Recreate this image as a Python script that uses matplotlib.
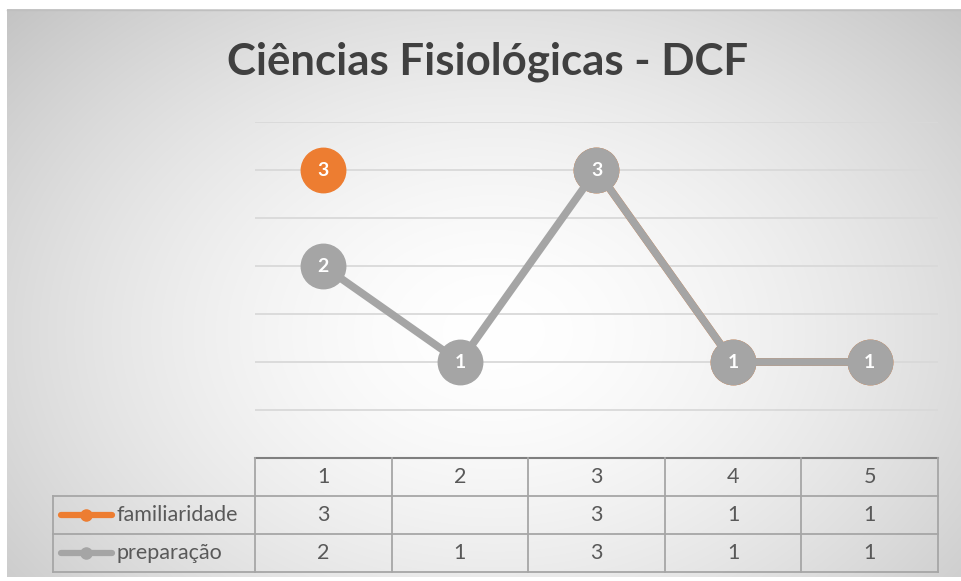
import numpy as np
import matplotlib
matplotlib.use("Agg")
import matplotlib.pyplot as plt

# ---- data ----
title = "Ciências Fisiológicas - DCF"
categories = ["1", "2", "3", "4", "5"]
series_names = ["familiaridade", "preparação"]
familiaridade = [3, None, 3, 1, 1]
preparacao = [2, 1, 3, 1, 1]
series_values = [familiaridade, preparacao]
colors = ["#ED7D31", "#A5A5A5"]

W, H = 962, 581
fig = plt.figure(figsize=(W / 100, H / 100), dpi=100)

# background with radial gradient
bg = fig.add_axes([0, 0, 1, 1])
bg.set_xlim(0, W)
bg.set_ylim(H, 0)
bg.axis("off")
yy, xx = np.mgrid[0:H, 0:W]
cx, cy = 490, 330
r = np.sqrt(((xx - cx) / 620.0) ** 2 + ((yy - cy) / 460.0) ** 2)
v = np.clip(1.0 - 0.21 * r ** 1.6, 0.74, 1.0)
img = np.dstack([v, v, v])
bg.imshow(img, extent=[7, W, 577, 9], aspect="auto", zorder=0)
bg.plot([7, W], [9.5, 9.5], color="#BFBFBF", lw=1, zorder=1)

# title
fig.text(488 / W, 1 - 62 / H, title, ha="center", va="center",
         fontsize=31.5, fontweight="bold", color="#404040", family="Lato")

# plot axes
left_px, right_px, top_px, bot_px = 255, 938, 122, 458
ax = fig.add_axes([left_px / W, 1 - bot_px / H, (right_px - left_px) / W, (bot_px - top_px) / H])
ax.patch.set_alpha(0)
ax.set_xlim(0.5, 5.5)
ax.set_ylim(0, 3.5)
for s in ax.spines.values():
    s.set_visible(False)
ax.set_xticks([])
ax.set_yticks([])
for g in np.arange(0.5, 3.51, 0.5):
    ax.axhline(g, color="#D9D9D9", lw=1.3, zorder=1)

x = np.arange(1, len(categories) + 1)
for i, (name, vals, c) in enumerate(zip(series_names, series_values, colors)):
    y = np.array([np.nan if v is None else v for v in vals], dtype=float)
    ax.plot(x, y, color=c, lw=5.5, marker="o", ms=32, mfc=c, mec=c,
            solid_capstyle="round", zorder=3 + 2 * i, clip_on=False)
    for xi, yi in zip(x, y):
        if not np.isnan(yi):
            ax.text(xi, yi, f"{int(yi)}", ha="center", va="center", color="white",
                    fontsize=14, fontweight="bold", family="Lato", zorder=4 + 2 * i)

# data table
col_edges = np.linspace(left_px, right_px, len(categories) + 1)
row_y = [458, 496, 534, 572]
label_left = 53
tc = "#A6A6A6"
L = lambda xs, ys, **kw: bg.plot(xs, ys, **kw)
L([left_px, right_px], [row_y[0], row_y[0]], color="#7F7F7F", lw=1.5, zorder=2)
for yv in row_y[1:]:
    L([label_left, right_px], [yv, yv], color=tc, lw=1.3, zorder=2)
for xv in col_edges:
    L([xv, xv], [row_y[0], row_y[-1]], color=tc, lw=1.3, zorder=2)
L([label_left, label_left], [row_y[1], row_y[-1]], color=tc, lw=1.3, zorder=2)

txt_kw = dict(ha="center", va="center", fontsize=15.5, color="#595959", family="Lato", zorder=3)
centers = (col_edges[:-1] + col_edges[1:]) / 2
for cxp, cat in zip(centers, categories):
    bg.text(cxp, (row_y[0] + row_y[1]) / 2, cat, **txt_kw)
for r_i, (name, vals, c) in enumerate(zip(series_names, series_values, colors)):
    ymid = (row_y[r_i + 1] + row_y[r_i + 2]) / 2
    bg.plot([61, 112], [ymid, ymid], color=c, lw=4.5, solid_capstyle="round", zorder=3)
    bg.plot([86], [ymid], marker="o", ms=8, color=c, zorder=3)
    bg.text(117, ymid, name, ha="left", va="center", fontsize=15.5, color="#595959",
            family="Lato", zorder=3)
    for cxp, val in zip(centers, vals):
        if val is not None:
            bg.text(cxp, ymid, str(val), **txt_kw)

fig.savefig("out.png", dpi=100)
